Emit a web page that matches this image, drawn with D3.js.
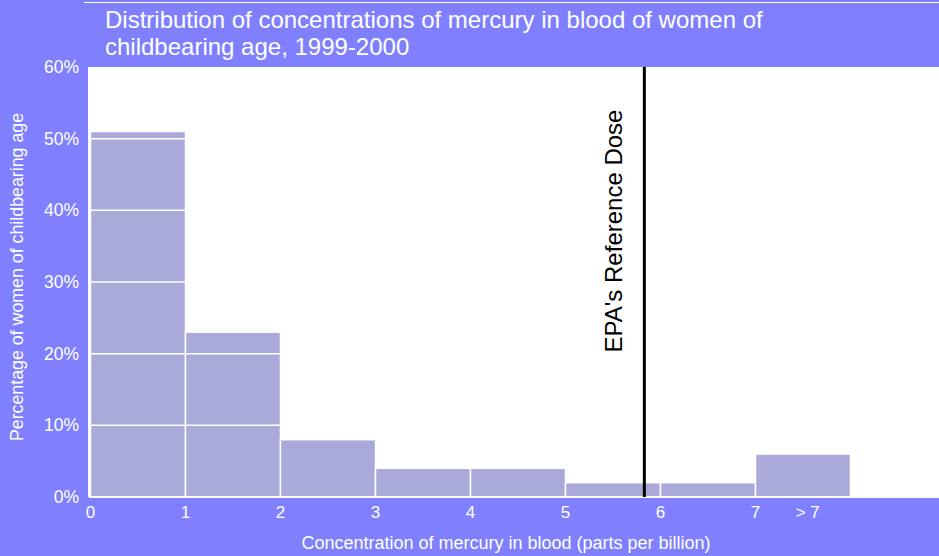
<!DOCTYPE html>
<html><head><meta charset="utf-8">
<script src="https://cdn.jsdelivr.net/npm/d3@7"></script>
<style>body{margin:0;background:#8080ff;}svg{display:block;font-family:"Liberation Sans",Arial,sans-serif;}</style>
</head><body>
<svg id="c" width="939" height="556"></svg>
<script>
const binStarts = [0,1,2,3,4,5,6,7];
const binEnds   = [1,2,3,4,5,6,7,8];
const percents  = [51,23,8,4,4,2,2,6];
const xTickValues = [0,1,2,3,4,5,6,7];
const xTickLabels = ["0","1","2","3","4","5","6","7"];
const yTickValues = [0,10,20,30,40,50,60];
const refDose = 5.83;
const refLabel = "EPA's Reference Dose";
const titleLines = ["Distribution of concentrations of mercury in blood of women of","childbearing age, 1999-2000"];

(function(){
const svg = d3.select("#c");
const W=939,H=556;
svg.append("rect").attr("width",W).attr("height",H).attr("fill","#8080ff");
svg.append("line").attr("x1",84).attr("x2",W).attr("y1",2.5).attr("y2",2.5).attr("stroke","#ffffff").attr("stroke-width",1);

const pLeft=89, pTop=67, pBottom=497;
const x = d3.scaleLinear().domain([0,1]).range([90.5,185.5]);
const y = d3.scaleLinear().domain([0,60]).range([pBottom,pTop]);

svg.append("rect").attr("x",pLeft).attr("y",pTop).attr("width",W-pLeft).attr("height",pBottom-pTop).attr("fill","#ffffff");

svg.append("g").selectAll("rect").data(percents).join("rect")
  .attr("x",(d,i)=>x(binStarts[i]))
  .attr("width",(d,i)=>x(binEnds[i])-x(binStarts[i]))
  .attr("y",d=>y(d)).attr("height",d=>y(0)-y(d))
  .attr("fill","#a9aad9").attr("stroke","#ffffff").attr("stroke-width",1.5);

svg.append("g").selectAll("line").data(yTickValues.filter(v=>v>0&&v<60)).join("line")
  .attr("x1",pLeft).attr("x2",W).attr("y1",d=>y(d)).attr("y2",d=>y(d))
  .attr("stroke","#ffffff").attr("stroke-width",1.5);

svg.append("line").attr("x1",pLeft).attr("x2",pLeft).attr("y1",pTop).attr("y2",pBottom).attr("stroke","#ffffff").attr("stroke-width",2);
svg.append("line").attr("x1",pLeft).attr("x2",W).attr("y1",pBottom).attr("y2",pBottom).attr("stroke","#ffffff").attr("stroke-width",2);

svg.append("g").selectAll("text").data(yTickValues).join("text")
  .attr("x",79).attr("y",d=>y(d)+6).attr("text-anchor","end")
  .attr("fill","#ffffff").attr("font-size",17.5).text(d=>d+"%");

svg.append("g").selectAll("text").data(xTickValues).join("text")
  .attr("x",d=>x(d)).attr("y",518).attr("text-anchor","middle")
  .attr("fill","#ffffff").attr("font-size",17).text((d,i)=>xTickLabels[i]);
svg.append("text").attr("x",x(7.55)).attr("y",518).attr("text-anchor","middle")
  .attr("fill","#ffffff").attr("font-size",17).text("> 7");

svg.append("line").attr("x1",x(refDose)).attr("x2",x(refDose)).attr("y1",pTop).attr("y2",pBottom)
  .attr("stroke","#000000").attr("stroke-width",3);
svg.append("text").attr("transform",`translate(${x(refDose)-22},231) rotate(-90)`)
  .attr("text-anchor","middle").attr("fill","#000000").attr("font-size",24).text(refLabel);

svg.append("text").attr("x",506).attr("y",549).attr("text-anchor","middle")
  .attr("fill","#ffffff").attr("font-size",18).text("Concentration of mercury in blood (parts per billion)");
svg.append("text").attr("transform","translate(23,277) rotate(-90)").attr("text-anchor","middle")
  .attr("fill","#ffffff").attr("font-size",17.8).text("Percentage of women of childbearing age");

svg.append("g").selectAll("text").data(titleLines).join("text")
  .attr("x",105).attr("y",(d,i)=>28+i*27).attr("fill","#ffffff").attr("font-size",24).text(d=>d);
})();
</script>
</body></html>
